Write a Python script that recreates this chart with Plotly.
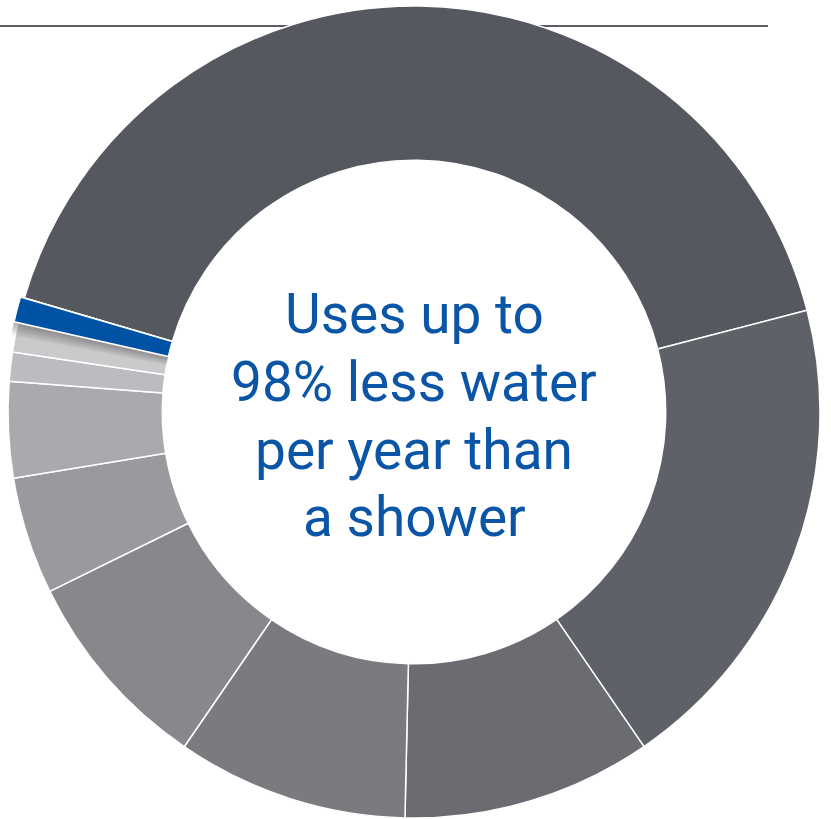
import plotly.graph_objects as go

segments = ["Segment A", "Segment B", "Segment C", "Segment D", "Segment E",
            "Segment F", "Segment G", "Segment H", "Segment I", "Highlighted"]
values = [41.44, 19.44, 9.94, 9.22, 8.14, 4.67, 3.82, 1.15, 1.17, 1.0]
colors = ["#55585f", "#5f6168", "#6b6b72", "#7a7a7f", "#88878c",
          "#9a999e", "#aaa9ae", "#bcbbbf", "#cacacd", "#0052a5"]
highlight = "Highlighted"
center_lines = ["Uses up to", "98% less water", "per year than", "a shower"]

W, H = 831, 819
ROT = -73.7          # first slice starts 73.7 deg counter-clockwise from 12 o'clock
CX, CY, R = 414, 412, 406   # ring centre / outer radius in pixels
HOLE = 0.62
clear = "rgba(0,0,0,0)"


def dom(cx, cy, r):
    return dict(x=[(cx - r) / W, (cx + r) / W], y=[1 - (cy + r) / H, 1 - (cy - r) / H])


def pie(colors_, line_colors, line_widths, domain, rotation, hole, hover="skip"):
    return go.Pie(
        labels=segments, values=values, sort=False, direction="clockwise",
        rotation=rotation, hole=hole,
        marker=dict(colors=colors_, line=dict(color=line_colors, width=line_widths)),
        textinfo="none", hoverinfo=hover, showlegend=False, domain=domain,
    )


fig = go.Figure()
# main ring
fig.add_trace(pie(colors, "white", 1.5, dom(CX, CY, R), ROT, HOLE, "label+percent"))

# highlighted slice: sticks out ~4 px beyond the ring, same inner edge
d = 4.0
ov_cx, ov_cy, ov_r = CX - 3.9, CY - 1.0, R
ov_hole = (R * HOLE - d) / ov_r
ov_dom = dom(ov_cx, ov_cy, ov_r)

# soft drop shadow below the highlighted slice (rotated copies, low alpha)
for k in range(1, 12):
    fig.add_trace(pie(["rgba(20,20,25,0.035)" if s == highlight else clear for s in segments],
                      clear, 0, ov_dom, ROT - 0.18 * k, ov_hole))

# highlighted slice on top
fig.add_trace(pie([c if s == highlight else clear for s, c in zip(segments, colors)],
                  ["white" if s == highlight else clear for s in segments],
                  [1.5 if s == highlight else 0 for s in segments],
                  ov_dom, ROT, ov_hole))

# horizontal rule behind the ring
fig.add_shape(type="line", xref="paper", yref="paper",
              x0=0, x1=768 / W, y0=1 - 26 / H, y1=1 - 26 / H,
              line=dict(color="#5b5e64", width=2), layer="below")

line_y = [314, 382, 450, 517]
for txt, yy in zip(center_lines, line_y):
    fig.add_annotation(text=txt, x=CX / W, y=1 - yy / H, xref="paper", yref="paper",
                       showarrow=False, xanchor="center", yanchor="middle",
                       font=dict(family="Roboto", size=55, color="#0a55a5", weight=400))

fig.update_layout(width=W, height=H, margin=dict(l=0, r=0, t=0, b=0),
                  paper_bgcolor="white", plot_bgcolor="white")
fig.write_html("out.html", config={"displayModeBar": False},
               post_script="document.body.style.margin='0';")
